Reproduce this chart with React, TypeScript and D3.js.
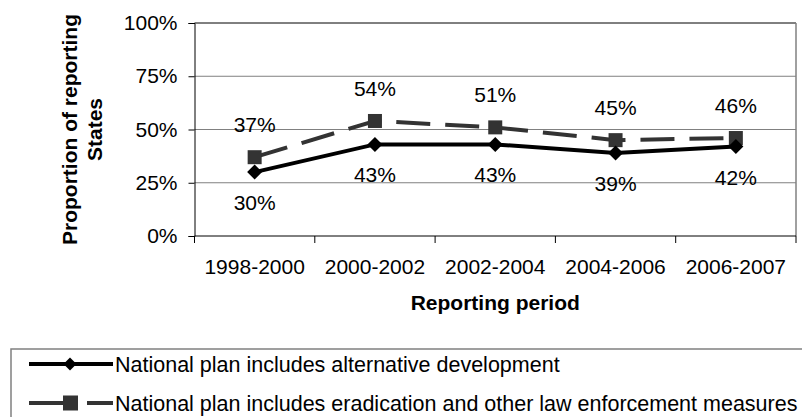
import { useRef, useEffect } from "react";
import * as d3 from "d3";

// Chart data (proportions in %)
const periods = ["1998-2000", "2000-2002", "2002-2004", "2004-2006", "2006-2007"];
const altDevelopment = [30, 43, 43, 39, 42];
const eradication = [37, 54, 51, 45, 46];
const yTicks = [0, 25, 50, 75, 100];

const seriesNames = [
  "National plan includes alternative development",
  "National plan includes eradication and other law enforcement measures",
];

const W = 802;
const H = 417;
const FONT = "'Liberation Sans', Arial, sans-serif";
const FS = "21px";

export default function App() {
  const svgRef = useRef<SVGSVGElement>(null);

  useEffect(() => {
    if (!svgRef.current) return;
    const svg = d3.select(svgRef.current);
    svg.selectAll("*").remove();

    const margin = { top: 23, right: 6, bottom: 181, left: 194.5 };
    const width = W - margin.left - margin.right;
    const height = H - margin.top - margin.bottom;

    const g = svg.append("g").attr("transform", `translate(${margin.left},${margin.top})`);

    const x = d3.scaleBand().domain(periods).range([0, width]);
    const y = d3.scaleLinear().domain([0, 100]).range([height, 0]);
    const cx = (p: string) => (x(p) ?? 0) + x.bandwidth() / 2;

    // gridlines
    g.selectAll(".grid")
      .data(yTicks.filter((t) => t > 0))
      .enter()
      .append("line")
      .attr("x1", 0)
      .attr("x2", width)
      .attr("y1", (d) => y(d))
      .attr("y2", (d) => y(d))
      .attr("stroke", (d) => (d === 100 ? "#000" : "#808080"))
      .attr("stroke-width", 1);

    // right border
    g.append("line").attr("x1", width).attr("x2", width).attr("y1", 0).attr("y2", height)
      .attr("stroke", "#808080").attr("stroke-width", 1.5);

    // y axis
    const yAxis = d3.axisLeft(y).tickValues(yTicks).tickSize(6).tickPadding(11)
      .tickFormat((d) => `${d}%`);
    const ya = g.append("g").call(yAxis);
    ya.select(".domain").attr("stroke", "#000");
    ya.selectAll(".tick line").attr("stroke", "#000");
    ya.selectAll("text").style("font-family", FONT).style("font-size", FS).attr("fill", "#000");

    // x axis with ticks at band boundaries
    const xg = g.append("g").attr("transform", `translate(0,${height})`);
    xg.append("line").attr("x1", 0).attr("x2", width).attr("stroke", "#000");
    const bounds = periods.map((p) => x(p) ?? 0).concat([width]);
    xg.selectAll(".xt").data(bounds).enter().append("line")
      .attr("x1", (d) => d).attr("x2", (d) => d).attr("y1", 0).attr("y2", 7)
      .attr("stroke", "#000");
    xg.selectAll(".xl").data(periods).enter().append("text")
      .attr("x", (d) => cx(d)).attr("y", 38).attr("text-anchor", "middle")
      .style("font-family", FONT).style("font-size", FS).attr("fill", "#000")
      .text((d) => d);

    // axis titles
    svg.append("text").attr("x", margin.left + width / 2).attr("y", 310)
      .attr("text-anchor", "middle").style("font-family", FONT).style("font-size", FS)
      .style("font-weight", "700").text("Reporting period");
    const yc = margin.top + height / 2;
    svg.append("text").attr("transform", `translate(77,${yc}) rotate(-90)`)
      .attr("text-anchor", "middle").style("font-family", FONT).style("font-size", FS)
      .style("font-weight", "700").text("Proportion of reporting");
    svg.append("text").attr("transform", `translate(102,${yc}) rotate(-90)`)
      .attr("text-anchor", "middle").style("font-family", FONT).style("font-size", FS)
      .style("font-weight", "700").text("States");

    const line = d3.line<number>().x((_, i) => cx(periods[i])).y((d) => y(d));
    const diamond = (s: number) => `M0,${-s}L${s},0L0,${s}L${-s},0Z`;

    // eradication series (dashed, squares)
    g.append("path").attr("d", line(eradication)).attr("fill", "none")
      .attr("stroke", "#333").attr("stroke-width", 4).attr("stroke-dasharray", "34,15");
    g.selectAll(".sq").data(eradication).enter().append("rect")
      .attr("x", (_, i) => cx(periods[i]) - 7).attr("y", (d) => y(d) - 7)
      .attr("width", 14).attr("height", 14).attr("fill", "#333");

    // alternative development (solid, diamonds)
    g.append("path").attr("d", line(altDevelopment)).attr("fill", "none")
      .attr("stroke", "#000").attr("stroke-width", 4);
    g.selectAll(".dm").data(altDevelopment).enter().append("path")
      .attr("d", diamond(7.5))
      .attr("transform", (d, i) => `translate(${cx(periods[i])},${y(d)})`).attr("fill", "#000");

    // data labels
    g.selectAll(".le").data(eradication).enter().append("text")
      .attr("x", (_, i) => cx(periods[i])).attr("y", (d) => y(d) - 25)
      .attr("text-anchor", "middle").style("font-family", FONT).style("font-size", FS)
      .text((d) => `${d}%`);
    g.selectAll(".la").data(altDevelopment).enter().append("text")
      .attr("x", (_, i) => cx(periods[i])).attr("y", (d) => y(d) + 38)
      .attr("text-anchor", "middle").style("font-family", FONT).style("font-size", FS)
      .text((d) => `${d}%`);

    // legend
    svg.append("rect").attr("x", 11).attr("y", 349).attr("width", 820).attr("height", 100)
      .attr("fill", "none").attr("stroke", "#808080").attr("stroke-width", 1.5);
    const leg = [
      { y: 364, name: seriesNames[0] },
      { y: 403, name: seriesNames[1] },
    ];
    svg.append("line").attr("x1", 29).attr("x2", 113).attr("y1", leg[0].y).attr("y2", leg[0].y)
      .attr("stroke", "#000").attr("stroke-width", 4);
    svg.append("path").attr("d", diamond(6.5)).attr("transform", `translate(70,${leg[0].y})`).attr("fill", "#000");
    svg.append("line").attr("x1", 29).attr("x2", 113).attr("y1", leg[1].y).attr("y2", leg[1].y)
      .attr("stroke", "#333").attr("stroke-width", 4).attr("stroke-dasharray", "34,24");
    svg.append("rect").attr("x", 63).attr("y", leg[1].y - 7.5).attr("width", 15).attr("height", 15).attr("fill", "#333");
    leg.forEach((l) => {
      svg.append("text").attr("x", 115).attr("y", l.y + 7.5).style("font-family", FONT)
        .style("font-size", "21.5px").text(l.name);
    });

    return () => {
      svg.selectAll("*").remove();
    };
  }, []);

  return (
    <div style={{ position: "absolute", left: 0, top: 0, width: W, height: H, background: "#fff" }}>
      <svg ref={svgRef} width={W} height={H} style={{ display: "block" }} />
    </div>
  );
}
